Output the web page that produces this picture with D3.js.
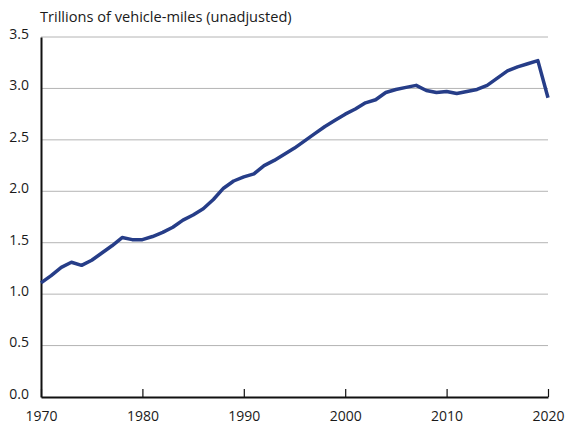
<!DOCTYPE html>
<html>
<head>
<meta charset="utf-8">
<script src="https://cdn.jsdelivr.net/npm/d3@7"></script>
<style>
  body { margin: 0; background: #fff; }
  text { font-family: "Open Sans", "Noto Sans", sans-serif; fill: #1a1a1a; }
</style>
</head>
<body>
<div id="chart"></div>
<script>
// data
let years = [1970,1971,1972,1973,1974,1975,1976,1977,1978,1979,1980,1981,1982,1983,1984,1985,1986,1987,1988,1989,
  1990,1991,1992,1993,1994,1995,1996,1997,1998,1999,2000,2001,2002,2003,2004,2005,2006,2007,2008,2009,
  2010,2011,2012,2013,2014,2015,2016,2017,2018,2019,2020];
let miles = [1.11,1.18,1.26,1.31,1.28,1.33,1.40,1.47,1.55,1.53,1.53,1.56,1.60,1.65,1.72,1.77,1.83,1.92,2.03,2.10,
  2.14,2.17,2.25,2.30,2.36,2.42,2.49,2.56,2.63,2.69,2.75,2.80,2.86,2.89,2.96,2.99,3.01,3.03,2.98,2.96,
  2.97,2.95,2.97,2.99,3.03,3.10,3.17,3.21,3.24,3.27,2.91];
let xTicks = [1970,1980,1990,2000,2010,2020];
let yTicks = [0,0.5,1.0,1.5,2.0,2.5,3.0,3.5];
let yTitle = "Trillions of vehicle-miles (unadjusted)";

let width = 568, height = 426;
let margin = {top: 37, right: 20, bottom: 29, left: 41};

let svg = d3.select("#chart")
  .append("svg")
  .attr("width", width)
  .attr("height", height);

let x = d3.scaleLinear()
  .domain([1970, 2020])
  .range([margin.left, width - margin.right]);

let y = d3.scaleLinear()
  .domain([0, 3.5])
  .range([height - margin.bottom, margin.top]);

// gridlines
svg.append("g")
  .selectAll("line")
  .data(yTicks.filter(d => d > 0))
  .enter()
  .append("line")
  .attr("x1", margin.left)
  .attr("x2", width - margin.right)
  .attr("y1", d => y(d))
  .attr("y2", d => y(d))
  .attr("stroke", "#b4b4b4")
  .attr("stroke-width", 1);

// y axis
let yAxis = svg.append("g")
  .attr("transform", `translate(${margin.left},0)`)
  .call(d3.axisLeft(y).tickValues(yTicks).tickSize(0).tickPadding(6).tickFormat(d3.format(".1f")));
yAxis.select(".domain").attr("stroke", "#111").attr("stroke-width", 2);
yAxis.selectAll("text").style("font-size", "14px").attr("x", -12).attr("dy", "0.1em").attr("text-anchor", "end");

// x axis, ticks point up into the plot
let xAxis = svg.append("g")
  .attr("transform", `translate(0,${y(0)})`)
  .call(d3.axisBottom(x).tickValues(xTicks).tickSizeInner(-8).tickSizeOuter(0).tickPadding(14).tickFormat(d3.format("d")));
xAxis.select(".domain").attr("stroke", "#111").attr("stroke-width", 2);
xAxis.selectAll(".tick line").attr("stroke", "#111").attr("stroke-width", 1.2);
xAxis.selectAll("text").style("font-size", "14px");

// title
svg.append("text")
  .attr("x", 40)
  .attr("y", 22)
  .style("font-size", "14.6px")
  .text(yTitle);

// the line
let line = d3.line()
  .x((d, i) => x(years[i]))
  .y(d => y(d));

svg.append("path")
  .datum(miles)
  .attr("d", line)
  .attr("fill", "none")
  .attr("stroke", "#263d88")
  .attr("stroke-width", 3.5)
  .attr("stroke-linejoin", "round");
</script>
</body>
</html>
